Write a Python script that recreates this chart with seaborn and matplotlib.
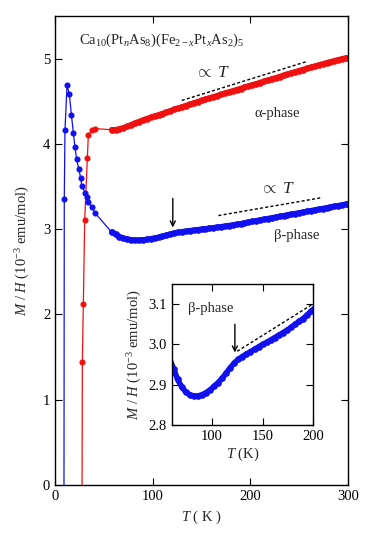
import numpy as np
import matplotlib
matplotlib.use("Agg")
import matplotlib.pyplot as plt
import seaborn as sns

# ── Data ──────────────────────────────────────────────────────
# beta-phase, sparse low-T points (first one lies below the axis)
beta_T_low = [9.0, 9.5, 10.2, 12.3, 14.7, 16.8, 18.8, 20.4, 22.2, 24.2, 26.3,
              27.4, 30.7, 32.5, 34.0, 37.6, 41.0]
beta_M_low = [-2.0, 3.36, 4.16, 4.69, 4.58, 4.34, 4.13, 3.96, 3.82, 3.71, 3.60,
              3.51, 3.43, 3.38, 3.32, 3.26, 3.19]

# alpha-phase, sparse low-T points
alpha_T_low = [27.3, 28.0, 29.0, 30.4, 33.1, 34.1, 37.6, 41.0]
alpha_M_low = [-2.0, 1.44, 2.12, 3.11, 3.83, 4.10, 4.16, 4.18]

# dense sweep temperatures (K)
T_dense = [58, 62, 66, 70, 74, 78, 82, 86, 90, 94, 98, 102, 106, 110, 114, 118,
           122, 126, 130, 134, 138, 142, 146, 150, 154, 158, 162, 166, 170, 174,
           178, 182, 186, 190, 194, 198, 202, 206, 210, 214, 218, 222, 226, 230,
           234, 238, 242, 246, 250, 254, 258, 262, 266, 270, 274, 278, 282, 286,
           290, 294, 298, 300]

beta_M_dense = [2.965, 2.940, 2.913, 2.895, 2.882, 2.875, 2.872, 2.872, 2.875,
                2.880, 2.887, 2.896, 2.905, 2.916, 2.929, 2.942, 2.954, 2.963,
                2.970, 2.976, 2.982, 2.988, 2.994, 3.000, 3.005, 3.011, 3.017,
                3.023, 3.029, 3.035, 3.042, 3.050, 3.057, 3.064, 3.073, 3.083,
                3.091, 3.099, 3.108, 3.116, 3.125, 3.133, 3.141, 3.150, 3.158,
                3.167, 3.175, 3.183, 3.192, 3.200, 3.209, 3.217, 3.225, 3.234,
                3.242, 3.251, 3.259, 3.267, 3.276, 3.284, 3.293, 3.297]

alpha_M_dense = [4.166, 4.167, 4.175, 4.190, 4.205, 4.225, 4.245, 4.262, 4.280,
                 4.296, 4.311, 4.326, 4.341, 4.357, 4.372, 4.388, 4.404, 4.419,
                 4.435, 4.450, 4.465, 4.480, 4.495, 4.510, 4.524, 4.538, 4.552,
                 4.566, 4.580, 4.594, 4.608, 4.622, 4.636, 4.650, 4.664, 4.678,
                 4.692, 4.706, 4.720, 4.734, 4.748, 4.762, 4.776, 4.790, 4.804,
                 4.818, 4.832, 4.846, 4.860, 4.873, 4.886, 4.899, 4.912, 4.925,
                 4.938, 4.951, 4.963, 4.975, 4.987, 4.998, 5.009, 5.013]

# guide lines  ∝ T
alpha_guide_T = [129.8, 257.9]
alpha_guide_M = [4.51, 4.967]
beta_guide_T = [167.3, 273.2]
beta_guide_M = [3.16, 3.37]
inset_guide_T = [124.9, 199.4]
inset_guide_M = [2.983, 3.100]

# ── Style ──────────────────────────────────────────────────────
sns.set_style("ticks")
plt.rcParams.update({
    "font.family": ["Liberation Serif", "DejaVu Serif"],
    "mathtext.fontset": "custom",
    "mathtext.rm": "Liberation Serif",
    "mathtext.it": "Liberation Serif:italic",
    "font.size": 10.5,
    "axes.linewidth": 1.0,
    "axes.edgecolor": "black",
    "xtick.direction": "in",
    "ytick.direction": "in",
    "xtick.top": True,
    "ytick.right": True,
    "xtick.major.size": 5,
    "ytick.major.size": 5,
    "xtick.color": "black",
    "ytick.color": "black",
})
BLUE = "#1010f0"
RED = "#f01010"
DASH = (0, (2.2, 1.6))


def draw_sparse(ax, T, M, color):
    sns.lineplot(x=T, y=M, ax=ax, color=color, lw=0.9, marker="o",
                 markersize=4.4, markeredgewidth=0, markeredgecolor=color,
                 estimator=None, sort=False, legend=False)


def draw_dense(ax, T, M, color):
    # closely spaced sweep points merge into a thick band
    sns.lineplot(x=T, y=M, ax=ax, color=color, lw=4.0, marker="o",
                 markersize=4.8, markeredgewidth=0, markeredgecolor=color,
                 estimator=None, sort=False, legend=False,
                 solid_capstyle="round", solid_joinstyle="round")


fig = plt.figure(figsize=(3.82, 5.35), dpi=100)
ax = fig.add_axes([0.144, 0.0935, 0.767, 0.8765])

draw_sparse(ax, alpha_T_low + T_dense[:1], alpha_M_low + alpha_M_dense[:1], RED)
draw_dense(ax, T_dense, alpha_M_dense, RED)
draw_sparse(ax, beta_T_low + T_dense[:1], beta_M_low + beta_M_dense[:1], BLUE)
draw_dense(ax, T_dense, beta_M_dense, BLUE)

ax.plot(alpha_guide_T, alpha_guide_M, ls=DASH, color="black", lw=1.0)
ax.plot(beta_guide_T, beta_guide_M, ls=DASH, color="black", lw=1.0)

ax.set_xlim(0, 300)
ax.set_ylim(0, 5.5)
ax.set_xticks([0, 100, 200, 300])
ax.set_yticks([0, 1, 2, 3, 4, 5])
ax.set_xlabel(r"$T$ ( K )", labelpad=4)
ax.set_ylabel(r"$M$ / $H$ (10$^{-3}$ emu/mol)", labelpad=8)

ax.text(24.6, 5.22,
        r"Ca$_{10}$(Pt$_n$As$_8$)(Fe$_{2-x}$Pt$_x$As$_2$)$_5$",
        ha="left", va="center", fontsize=10.5)
ax.text(162, 4.835, r"$\propto$ $T$", ha="center", va="center", fontsize=12.5)
ax.text(228, 4.36, "α-phase", ha="center", va="center", fontsize=10.5)
ax.text(228, 3.47, r"$\propto$ $T$", ha="center", va="center", fontsize=12.5)
ax.text(247.6, 2.93, "β-phase", ha="center", va="center", fontsize=10.5)

ax.annotate("", xy=(120.6, 3.02), xytext=(120.6, 3.36),
            arrowprops=dict(arrowstyle="->", color="black", lw=1.0,
                            shrinkA=0, shrinkB=0, mutation_scale=9))

# ── Inset ──────────────────────────────────────────────────────
ins = fig.add_axes([0.449, 0.2056, 0.371, 0.2636])
draw_dense(ins, T_dense, beta_M_dense, BLUE)
ins.plot(inset_guide_T, inset_guide_M, ls=DASH, color="black", lw=1.0)
ins.set_xlim(60, 200)
ins.set_ylim(2.8, 3.15)
ins.set_xticks([100, 150, 200])
ins.set_yticks([2.8, 2.9, 3.0, 3.1])
ins.set_yticklabels(["2.8", "2.9", "3.0", "3.1"])
ins.set_xlabel(r"$T$ (K)", labelpad=2)
ins.set_ylabel(r"$M$ / $H$ (10$^{-3}$ emu/mol)", labelpad=3)
ins.text(98.8, 3.088, "β-phase", ha="center", va="center", fontsize=10.5)
ins.annotate("", xy=(122.6, 2.98), xytext=(122.6, 3.05),
             arrowprops=dict(arrowstyle="->", color="black", lw=1.0,
                             shrinkA=0, shrinkB=0, mutation_scale=9))

fig.savefig("out.png", dpi=100)
plt.close(fig)
